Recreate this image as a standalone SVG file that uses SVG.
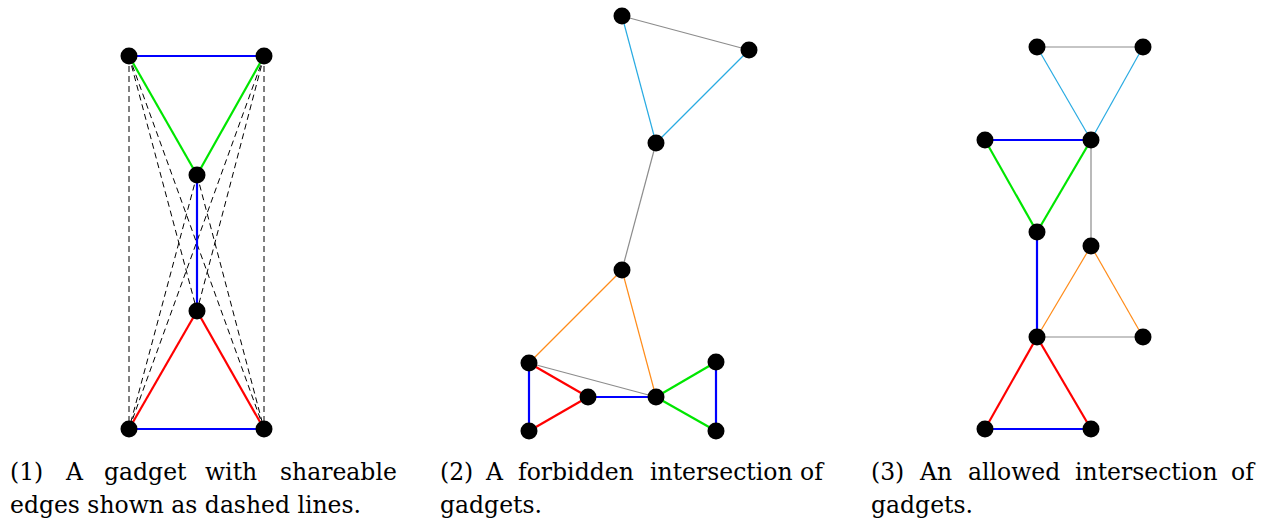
<svg xmlns="http://www.w3.org/2000/svg" width="1275" height="523" viewBox="0 0 1275 523">
<style>
.n{fill:#000}
.thick{stroke-width:2.2;fill:none}
.thin{stroke-width:1.2;fill:none}
.dash{stroke:#000;stroke-width:1;stroke-dasharray:6 4;fill:none}
.b{stroke:#0000ff}.g{stroke:#00e600}.r{stroke:#ff0000}
.c{stroke:#29abe2}.o{stroke:#ff8c1a}.k{stroke:#8c8c8c}
.cap{font-family:"DejaVu Serif","Liberation Serif",serif;font-size:23.5px;fill:#000}
</style>
<rect width="1275" height="523" fill="#fff"/>
<g id="connectors">
<line class="dash" x1="129" y1="56" x2="129" y2="429"/>
<line class="dash" x1="264" y1="56" x2="264" y2="429"/>
<line class="dash" x1="129" y1="56" x2="197" y2="311"/>
<line class="dash" x1="129" y1="56" x2="264" y2="429"/>
<line class="dash" x1="264" y1="56" x2="197" y2="311"/>
<line class="dash" x1="264" y1="56" x2="129" y2="429"/>
<line class="dash" x1="197" y1="175" x2="129" y2="429"/>
<line class="dash" x1="197" y1="175" x2="264" y2="429"/>
<line class="thick b" x1="129" y1="56" x2="264" y2="56"/>
<line class="thick g" x1="129" y1="56" x2="197" y2="175"/>
<line class="thick g" x1="264" y1="56" x2="197" y2="175"/>
<line class="thick b" x1="197" y1="175" x2="197" y2="311"/>
<line class="thick r" x1="197" y1="311" x2="129" y2="429"/>
<line class="thick r" x1="197" y1="311" x2="264" y2="429"/>
<line class="thick b" x1="129" y1="429" x2="264" y2="429"/>
<line class="thin k" x1="622" y1="16" x2="749" y2="50"/>
<line class="thin c" x1="622" y1="16" x2="656" y2="143"/>
<line class="thin c" x1="749" y1="50" x2="656" y2="143"/>
<line class="thin k" x1="656" y1="143" x2="622" y2="270"/>
<line class="thin o" x1="622" y1="270" x2="529" y2="363"/>
<line class="thin o" x1="622" y1="270" x2="656" y2="397"/>
<line class="thin k" x1="529" y1="363" x2="656" y2="397"/>
<line class="thick r" x1="529" y1="363" x2="588" y2="397"/>
<line class="thick b" x1="529" y1="363" x2="529" y2="431"/>
<line class="thick r" x1="529" y1="431" x2="588" y2="397"/>
<line class="thick b" x1="588" y1="397" x2="656" y2="397"/>
<line class="thick g" x1="656" y1="397" x2="716" y2="362"/>
<line class="thick g" x1="656" y1="397" x2="716" y2="431"/>
<line class="thick b" x1="716" y1="362" x2="716" y2="431"/>
<line class="thin k" x1="1037" y1="47" x2="1143" y2="47"/>
<line class="thin c" x1="1037" y1="47" x2="1091" y2="140"/>
<line class="thin c" x1="1143" y1="47" x2="1091" y2="140"/>
<line class="thick b" x1="985" y1="140" x2="1091" y2="140"/>
<line class="thick g" x1="985" y1="140" x2="1037" y2="232"/>
<line class="thick g" x1="1091" y1="140" x2="1037" y2="232"/>
<line class="thin k" x1="1091" y1="140" x2="1091" y2="246"/>
<line class="thick b" x1="1037" y1="232" x2="1037" y2="337"/>
<line class="thin o" x1="1091" y1="246" x2="1037" y2="337"/>
<line class="thin o" x1="1091" y1="246" x2="1143" y2="337"/>
<line class="thin k" x1="1037" y1="337" x2="1143" y2="337"/>
<line class="thick r" x1="1037" y1="337" x2="985" y2="429"/>
<line class="thick r" x1="1037" y1="337" x2="1091" y2="429"/>
<line class="thick b" x1="985" y1="429" x2="1091" y2="429"/>
</g>
<g id="p1-tl"><circle class="n" cx="129" cy="56" r="8.5"/></g>
<g id="p1-tr"><circle class="n" cx="264" cy="56" r="8.5"/></g>
<g id="p1-mt"><circle class="n" cx="197" cy="175" r="8.5"/></g>
<g id="p1-mb"><circle class="n" cx="197" cy="311" r="8.5"/></g>
<g id="p1-bl"><circle class="n" cx="129" cy="429" r="8.5"/></g>
<g id="p1-br"><circle class="n" cx="264" cy="429" r="8.5"/></g>
<g id="p2-a"><circle class="n" cx="622" cy="16" r="8.5"/></g>
<g id="p2-b"><circle class="n" cx="749" cy="50" r="8.5"/></g>
<g id="p2-c"><circle class="n" cx="656" cy="143" r="8.5"/></g>
<g id="p2-d"><circle class="n" cx="622" cy="270" r="8.5"/></g>
<g id="p2-e"><circle class="n" cx="529" cy="363" r="8.5"/></g>
<g id="p2-f"><circle class="n" cx="588" cy="397" r="8.5"/></g>
<g id="p2-g"><circle class="n" cx="656" cy="397" r="8.5"/></g>
<g id="p2-h"><circle class="n" cx="716" cy="362" r="8.5"/></g>
<g id="p2-i"><circle class="n" cx="529" cy="431" r="8.5"/></g>
<g id="p2-j"><circle class="n" cx="716" cy="431" r="8.5"/></g>
<g id="p3-1"><circle class="n" cx="1037" cy="47" r="8.5"/></g>
<g id="p3-2"><circle class="n" cx="1143" cy="47" r="8.5"/></g>
<g id="p3-3"><circle class="n" cx="985" cy="140" r="8.5"/></g>
<g id="p3-4"><circle class="n" cx="1091" cy="140" r="8.5"/></g>
<g id="p3-5"><circle class="n" cx="1037" cy="232" r="8.5"/></g>
<g id="p3-6"><circle class="n" cx="1091" cy="246" r="8.5"/></g>
<g id="p3-7"><circle class="n" cx="1037" cy="337" r="8.5"/></g>
<g id="p3-8"><circle class="n" cx="1143" cy="337" r="8.5"/></g>
<g id="p3-9"><circle class="n" cx="985" cy="429" r="8.5"/></g>
<g id="p3-10"><circle class="n" cx="1091" cy="429" r="8.5"/></g>
<g id="captions">
<text class="cap" y="480"><tspan x="10">(1)</tspan> <tspan x="66">A</tspan> <tspan x="104">gadget</tspan> <tspan x="205">with</tspan> <tspan x="280">shareable</tspan></text>
<text class="cap" x="10" y="513" textLength="351" lengthAdjust="spacing">edges shown as dashed lines.</text>
<text class="cap" y="480"><tspan x="440">(2)</tspan> <tspan x="486">A</tspan> <tspan x="518">forbidden</tspan> <tspan x="650">intersection</tspan> <tspan x="800">of</tspan></text>
<text class="cap" x="440" y="513">gadgets.</text>
<text class="cap" y="480"><tspan x="871">(3)</tspan> <tspan x="920">An</tspan> <tspan x="968">allowed</tspan> <tspan x="1075">intersection</tspan> <tspan x="1231">of</tspan></text>
<text class="cap" x="871" y="513">gadgets.</text>
</g>
</svg>
